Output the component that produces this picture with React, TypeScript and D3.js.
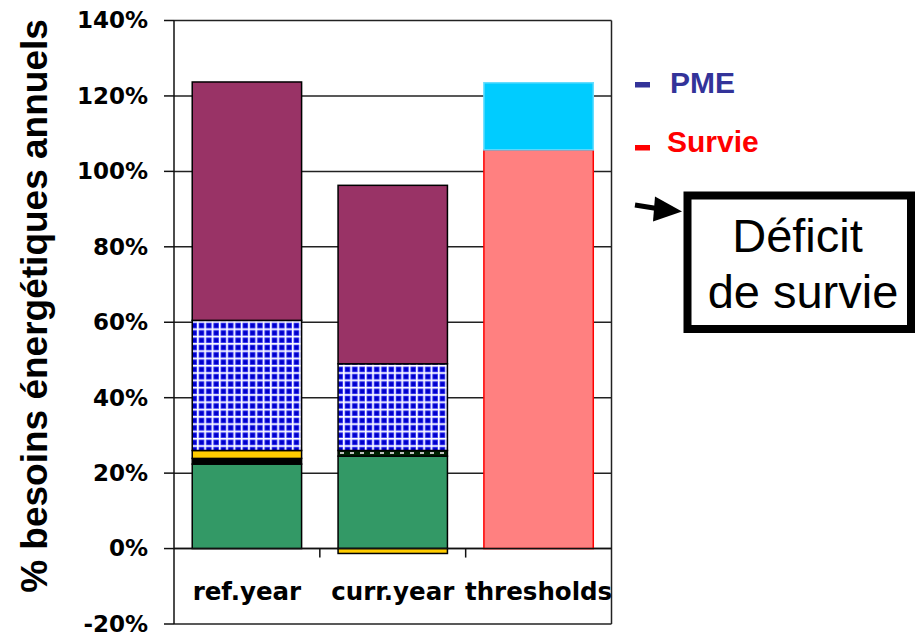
import React from 'react';
import * as d3 from 'd3';

const categories = ['ref.year', 'curr.year', 'thresholds'];
const greenVals = [0.224, 0.245, 0];
const blackVals = [0.015, 0, 0];
const yellowVals = [0.021, -0.013, 0];
const dashedVals = [0, 0.015, 0];
const gridVals = [0.345, 0.23, 0];
const maroonVals = [0.632, 0.473, 0];
const survieVals = [0, 0, 1.057];
const pmeVals = [0, 0, 0.178];
const yTicks = [-0.2, 0, 0.2, 0.4, 0.6, 0.8, 1.0, 1.2, 1.4];

const seriesKeys = ['green', 'black', 'yellow', 'dashed', 'grid', 'maroon', 'survie', 'pme'];
const seriesValues: Record<string, number[]> = {
  green: greenVals,
  black: blackVals,
  yellow: yellowVals,
  dashed: dashedVals,
  grid: gridVals,
  maroon: maroonVals,
  survie: survieVals,
  pme: pmeVals,
};
const fills: Record<string, string> = {
  green: '#339966',
  black: '#000000',
  yellow: '#FFCC00',
  dashed: 'url(#dashBand)',
  grid: 'url(#blueGrid)',
  maroon: '#993366',
  survie: '#FF8080',
  pme: '#00CCFF',
};
const strokes: Record<string, string> = {
  survie: '#FF0000',
  pme: '#66DDFF',
};

const W = 916;
const H = 637;
const plot = { left: 174, right: 611.5, top: 20.5, bottom: 624 };

// percent labels with a plain hyphen, like the original
const pct = (t: number) => `${Math.round(t * 100)}%`;

export default function App() {
  const x = d3.scaleBand<string>()
    .domain(categories)
    .range([plot.left, plot.right])
    .paddingInner(0.25)
    .paddingOuter(0.125);
  const y = d3.scaleLinear().domain([-0.2, 1.4]).range([plot.bottom, plot.top]);

  const table = categories.map((c, i) => {
    const row: any = { cat: c };
    seriesKeys.forEach(k => (row[k] = seriesValues[k][i]));
    return row;
  });
  const stacked = d3.stack<any>().keys(seriesKeys).offset(d3.stackOffsetDiverging)(table);

  const step = x.step();
  const boundaries = d3.range(1, categories.length).map(i => plot.left + step * i);

  const arrowLine = d3.line()([[635, 205], [660, 209]]);

  return (
    <svg width={W} height={H} style={{ position: 'absolute', left: 0, top: 0, background: '#fff' }}>
      <defs>
        <pattern id="blueGrid" patternUnits="userSpaceOnUse" width={7.3} height={7.3}>
          <rect width={7.3} height={7.3} fill="#FFFFFF" />
          <rect x={1.5} y={1.5} width={5.8} height={5.8} fill="#5555FF" />
          <rect x={2.2} y={2.2} width={4.4} height={4.4} fill="#0000CC" />
        </pattern>
        <pattern id="dashBand" patternUnits="userSpaceOnUse" width={10} height={6}>
          <rect width={10} height={6} fill="#002200" />
          <rect x={0} y={2} width={4} height={2} fill="#C0C0C0" />
        </pattern>
      </defs>

      {/* gridlines */}
      {yTicks.map(t => (
        <line key={'g' + t} x1={plot.left} x2={plot.right} y1={y(t)} y2={y(t)} stroke="#222" strokeWidth={1.5} />
      ))}
      <line x1={plot.right} x2={plot.right} y1={plot.top} y2={plot.bottom} stroke="#222" strokeWidth={1.5} />

      {/* bars */}
      {stacked.map(s => (
        <g key={s.key}>
          {s.map((d, i) => {
            const h = Math.abs(y(d[0]) - y(d[1]));
            if (h < 0.01) return null;
            return (
              <rect
                key={i}
                x={x(categories[i])}
                y={Math.min(y(d[0]), y(d[1]))}
                width={x.bandwidth()}
                height={h}
                fill={fills[s.key]}
                stroke={strokes[s.key] || '#000'}
                strokeWidth={1.5}
              />
            );
          })}
        </g>
      ))}

      {/* x axis */}
      <line x1={plot.left} x2={plot.right} y1={y(0)} y2={y(0)} stroke="#111" strokeWidth={1.5} />
      {boundaries.map(b => (
        <line key={b} x1={b} x2={b} y1={y(0)} y2={y(0) + 9} stroke="#111" strokeWidth={1.5} />
      ))}
      {categories.map(c => (
        <text
          key={c}
          x={(x(c) as number) + x.bandwidth() / 2}
          y={600}
          textAnchor="middle"
          fontFamily="DejaVu Sans"
          fontWeight="bold"
          fontSize={24.5}
          fill="#000"
        >
          {c}
        </text>
      ))}

      {/* y axis */}
      <line x1={plot.left} x2={plot.left} y1={plot.top} y2={plot.bottom} stroke="#111" strokeWidth={1.5} />
      {yTicks.map(t => (
        <g key={'t' + t}>
          <line x1={plot.left - 10} x2={plot.left} y1={y(t)} y2={y(t)} stroke="#111" strokeWidth={1.5} />
          <text
            x={148}
            y={y(t)}
            dy="0.34em"
            textAnchor="end"
            fontFamily="DejaVu Sans"
            fontWeight="bold"
            fontSize={23}
            fill="#000"
          >
            {pct(t)}
          </text>
        </g>
      ))}
      <text
        transform={`translate(47,${(12 + 600) / 2}) rotate(-90)`}
        textAnchor="middle"
        fontFamily="Liberation Sans"
        fontWeight="bold"
        fontSize={37}
        fill="#000"
      >
        % besoins énergétiques annuels
      </text>

      {/* legend */}
      <rect x={635} y={82} width={15} height={5.5} fill="#333399" />
      <text x={670} y={92.5} fontFamily="Liberation Sans" fontWeight="bold" fontSize={30} fill="#333399">PME</text>
      <rect x={635} y={145} width={15} height={5.5} fill="#FF0000" />
      <text x={667} y={151.5} fontFamily="Liberation Sans" fontWeight="bold" fontSize={30} fill="#FF0000">Survie</text>

      {/* annotation */}
      <path d={arrowLine as string} stroke="#000" strokeWidth={5} fill="none" />
      <polygon points="655,196.5 682,211.5 653,221.5" fill="#000" />
      <rect x={687.5} y={195.5} width={223.5} height={133.5} fill="#fff" stroke="#000" strokeWidth={8} />
      <text x={797.5} y={251.7} textAnchor="middle" fontFamily="Liberation Sans" fontSize={47} fill="#000">Déficit</text>
      <text x={803} y={308} textAnchor="middle" fontFamily="Liberation Sans" fontSize={47} fill="#000">de survie</text>
    </svg>
  );
}
